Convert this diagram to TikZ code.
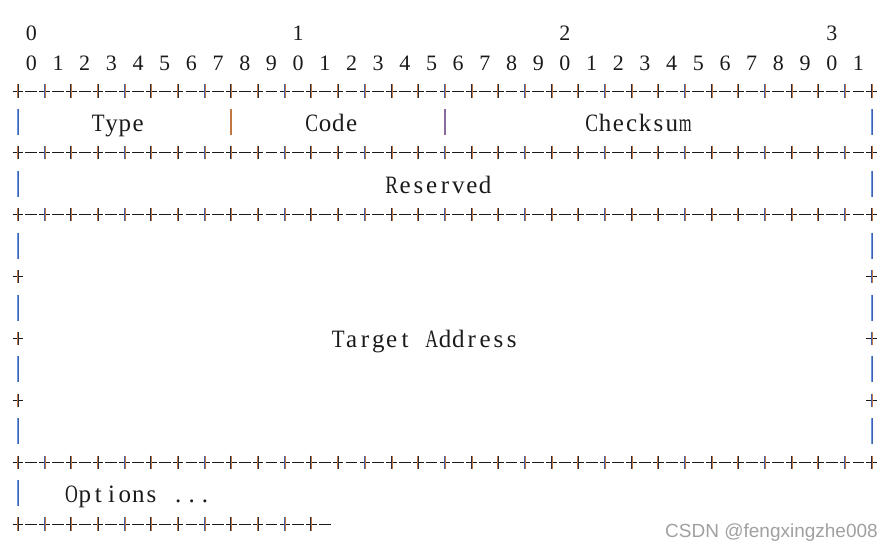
\documentclass[tikz,border=0pt]{standalone}
\usepackage{graphicx}
\usepackage{fontspec}
\setmainfont{Liberation Serif}
\newfontfamily\wmfont{Liberation Sans}

\definecolor{cOr}{HTML}{C07840}
\definecolor{cBl}{HTML}{3E62B0}
\definecolor{cLb}{HTML}{6A96E0}
\definecolor{cYe}{HTML}{A8A050}
\definecolor{cDk}{HTML}{2A2A40}
\definecolor{cPu}{HTML}{8A6A9A}
\definecolor{ink}{HTML}{1A1A1A}
\definecolor{wmgray}{HTML}{A0A0A0}

\newcommand\monocell[1]{\makebox[13.34pt]{\sbox0{#1}\ifdim\wd0>12.8pt\resizebox{12.8pt}{\height}{#1}\else\usebox0\fi}}
\ExplSyntaxOn
\NewDocumentCommand\monotext{m}{\tl_map_inline:nn {#1}{\monocell{##1}}}
\ExplSyntaxOff

\tikzset{
  hstroke/.style={draw=ink, line width=1pt},
  vstroke/.style={line width=1pt},
  dig/.style={font=\fontsize{22}{22}\selectfont, anchor=base, inner sep=0pt, text=ink},
  lab/.style={font=\fontsize{25}{25}\selectfont, anchor=base west, inner sep=0pt, text=ink},
}

% vertical two-tone stroke: x, y, half height, colour index
\newcommand\vpair[4]{%
  \ifcase#4 \def\colL{cOr}\def\colR{cDk}%
  \or \def\colL{cBl}\def\colR{cOr}%
  \or \def\colL{cDk}\def\colR{cOr}%
  \or \def\colL{cLb}\def\colR{cBl}%
  \or \def\colL{cOr}\def\colR{cOr}%
  \or \def\colL{cPu}\def\colR{cPu}%
  \fi
  \draw[vstroke,draw=\colL] (#1-0.5,#2-#3) -- (#1-0.5,#2+#3);
  \draw[vstroke,draw=\colR] (#1+0.5,#2-#3) -- (#1+0.5,#2+#3);
}
% plus glyph: x, y, colour index
\newcommand\pg[3]{%
  \draw[hstroke] (#1-5.3,#2) -- (#1+5.3,#2);
  \vpair{#1}{#2}{6.6}{#3}%
}
% row of +-+-: y, last plus index, last dash index
\newcommand\plusrow[3]{%
  \foreach \i [evaluate=\i as \m using {int(mod(\i,3))}] in {0,...,#2} {\pg{18+26.68*\i}{#1}{\m}}
  \foreach \i in {0,...,#3} {\draw[hstroke] (18+13.34+26.68*\i-5.9,#1) -- (18+13.34+26.68*\i+5.9,#1);}
}
% vertical bar: x, y, colour index
\newcommand\vbar[3]{\vpair{#1}{#2}{13}{#3}}

\begin{document}
\begin{tikzpicture}[x=1pt,y=-1pt]
\useasboundingbox (0,0) rectangle (894,550);

% bit numbers
\foreach \i/\t in {0/0,10/1,20/2,30/3}
  \node[dig] (top\t) at (31.34+26.68*\i,40) {\t};
\foreach \i [evaluate=\i as \d using {int(mod(\i,10))}] in {0,...,31}
  \node[dig] (bit\i) at (31.34+26.68*\i,70.7) {\d};

% +-+- separator rows
\plusrow{91}{32}{31}
\plusrow{152.86}{32}{31}
\plusrow{214.72}{32}{31}
\plusrow{462.16}{32}{31}
\plusrow{524.02}{11}{11}

% row 1 bars
\vbar{18}{121.93}{3}
\vbar{231.44}{121.93}{4}
\vbar{444.88}{121.93}{5}
\vbar{871.76}{121.93}{3}
% row 2 bars
\vbar{18}{183.79}{3}
\vbar{871.76}{183.79}{3}
% target address block
\foreach \y in {245.65,307.51,369.37,431.23} {\vbar{18}{\y}{3}\vbar{871.76}{\y}{3}}
\foreach \y in {276.58,338.44,400.30} {\pg{18}{\y}{0}\pg{871.76}{\y}{1}}
% options bar
\vbar{18}{493.09}{3}

% labels
\node[lab] (type) at (91.4,131.4) {\monotext{Type}};
\node[lab] (code) at (304.8,131.4) {\monotext{Code}};
\node[lab] (checksum) at (584.9,131.4) {\monotext{Checksum}};
\node[lab] (reserved) at (384.9,193.3) {\monotext{Reserved}};
\node[lab] (target) at (331.5,347.9) {\monotext{Target~Address}};
\node[lab] (options) at (64.7,502.6) {\monotext{Options~...}};

% watermark
\node[anchor=base east, inner sep=0pt, text=wmgray, font=\wmfont\fontsize{19}{19}\selectfont] (wm) at (878,537) {CSDN @fengxingzhe008};
\end{tikzpicture}
\end{document}
